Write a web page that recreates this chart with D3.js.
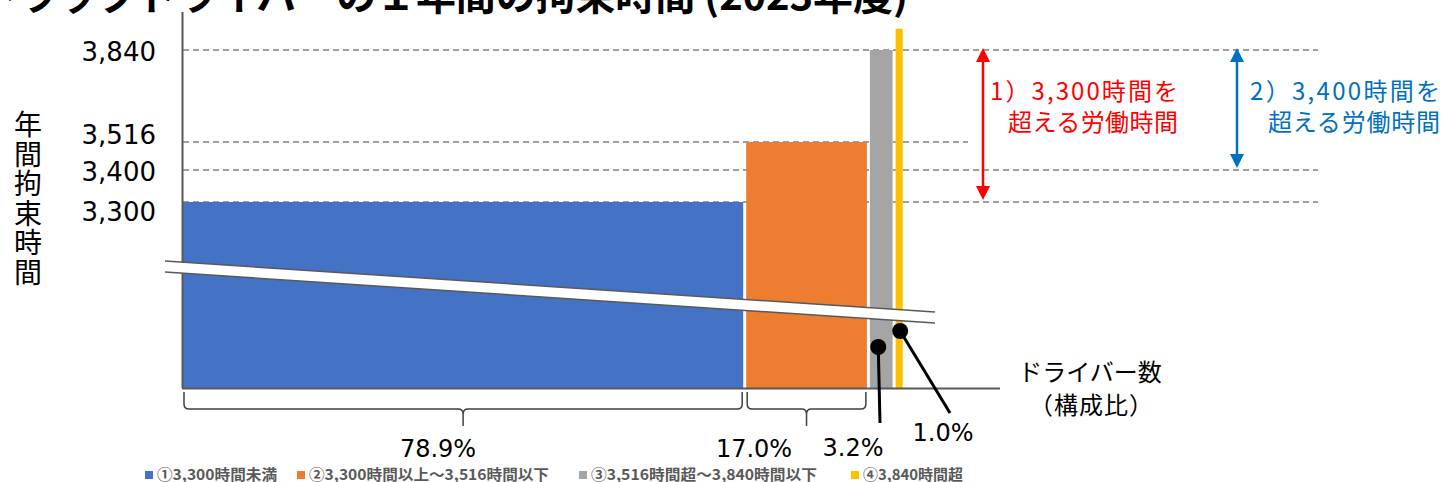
<!DOCTYPE html>
<html>
<head>
<meta charset="utf-8">
<script src="https://cdn.jsdelivr.net/npm/d3@7"></script>
<style>
  body { margin: 0; background: #fff; }
  svg { display: block; }
  text { font-family: "Noto Sans CJK JP", "DejaVu Sans", sans-serif; }
  .num { font-family: "DejaVu Sans", "Noto Sans CJK JP", sans-serif; }
</style>
</head>
<body>
<svg id="chart" width="1443" height="482"></svg>
<script>
// data
const categories = ["①3,300時間未満", "②3,300時間以上～3,516時間以下", "③3,516時間超～3,840時間以下", "④3,840時間超"];
const shares = [78.9, 17.0, 3.2, 1.0];          // % of drivers
const barTops = [3300, 3516, 3840, 3915];        // hours (last one is "over 3,840")
const colors = ["#4472C4", "#ED7D31", "#A5A5A5", "#FFC000"];
const yTicks = [3840, 3516, 3400, 3300];
const shareLabels = ["78.9%", "17.0%", "3.2%", "1.0%"];

const svg = d3.select("#chart");
const baseY = 388;     // broken axis bottom
const left = 183;
const gap = 3;

// schematic (non-uniform) vertical scale, as in the original
const y = d3.scaleLinear().domain([3300, 3400, 3516, 3840]).range([202, 170, 142, 50]);
const x = d3.scaleLinear().domain([0, 100]).range([left, left + 710]);

// title (cut off at top edge)
svg.append("text")
  .attr("x", -22).attr("y", 10)
  .attr("textLength", 930).attr("lengthAdjust", "spacing")
  .style("font-size", "40px").style("font-weight", "700").attr("fill", "#000")
  .text("トラックドライバーの１年間の拘束時間 (2023年度)");

// bar geometry
let cum = 0;
const bars = shares.map((s, i) => {
  const b = { i, x0: x(cum) + i * gap, w: x(cum + s) - x(cum), top: y(barTops[i]), color: colors[i] };
  cum += s;
  return b;
});

// gridlines
const gridEnd = { 3840: 1318, 3516: 968, 3400: 1318, 3300: 1318 };
svg.append("g").selectAll("line").data(yTicks).join("line")
  .attr("x1", left).attr("x2", d => gridEnd[d])
  .attr("y1", d => y(d)).attr("y2", d => y(d))
  .attr("stroke", "#808080").attr("stroke-width", 1.3).attr("stroke-dasharray", "6,4");

// bars
svg.append("g").selectAll("rect").data(bars).join("rect")
  .attr("x", d => d.x0).attr("width", d => d.w)
  .attr("y", d => d.top).attr("height", d => baseY - d.top)
  .attr("fill", d => d.color);

// axes
svg.append("line").attr("x1", 182.5).attr("x2", 182.5).attr("y1", 12).attr("y2", baseY)
  .attr("stroke", "#595959").attr("stroke-width", 2);
svg.append("line").attr("x1", 182).attr("x2", 1000).attr("y1", baseY + 0.5).attr("y2", baseY + 0.5)
  .attr("stroke", "#595959").attr("stroke-width", 2);

// axis break band
const band = [[165, 261], [935, 312], [935, 323], [165, 272]];
svg.append("path").attr("d", d3.line()(band) + "Z").attr("fill", "#fff");
svg.append("line").attr("x1", 165).attr("y1", 261).attr("x2", 935).attr("y2", 312)
  .attr("stroke", "#595959").attr("stroke-width", 1.5);
svg.append("line").attr("x1", 165).attr("y1", 272).attr("x2", 935).attr("y2", 323)
  .attr("stroke", "#595959").attr("stroke-width", 1.5);

// y tick labels
const tickNudge = { 3840: 11, 3516: 2, 3400: 11, 3300: 19 };
svg.append("g").selectAll("text").data(yTicks).join("text")
  .attr("class", "num")
  .attr("x", 156).attr("y", d => y(d) + tickNudge[d])
  .attr("text-anchor", "end").style("font-size", "26px").attr("fill", "#000")
  .text(d => d3.format(",")(d));

// y axis title (vertical, one glyph per line)
svg.append("g").selectAll("text").data(Array.from("年間拘束時間")).join("text")
  .attr("x", 28).attr("y", (d, i) => 135 + i * 29.6).attr("text-anchor", "middle")
  .style("font-size", "28px").attr("fill", "#000").text(d => d);

// braces under first two bars
function brace(x1, x2) {
  const xm = (x1 + x2) / 2, y0 = 392, y1 = 409, r = 5;
  return `M${x1},${y0} L${x1},${y1 - r} Q${x1},${y1} ${x1 + r},${y1} L${xm - r},${y1} Q${xm},${y1} ${xm},${y1 + r} L${xm},${y1 + 17}` +
    ` M${xm},${y1 + r} Q${xm},${y1} ${xm + r},${y1} L${x2 - r},${y1} Q${x2},${y1} ${x2},${y1 - r} L${x2},${y0}`;
}
svg.append("g").selectAll("path").data(bars.slice(0, 2)).join("path")
  .attr("d", d => brace(d.x0 + 1, d.x0 + d.w - 1))
  .attr("fill", "none").attr("stroke", "#404040").attr("stroke-width", 1.5);

// leader lines + dots for the thin bars
const leaders = [
  { bar: 2, dx: -3, dotY: 347, endX: 880, endY: 423 },
  { bar: 3, dx: 1, dotY: 331, endX: 950, endY: 413 }
];
leaders.forEach(l => {
  const b = bars[l.bar];
  const cx = b.x0 + b.w / 2 + l.dx;
  svg.append("line").attr("x1", cx).attr("y1", l.dotY).attr("x2", l.endX).attr("y2", l.endY)
    .attr("stroke", "#000").attr("stroke-width", 3);
  svg.append("circle").attr("cx", cx).attr("cy", l.dotY).attr("r", 8).attr("fill", "#000");
});

// share labels
const labelPos = [[438, 457], [754, 457], [853, 456], [943, 441]];
svg.append("g").selectAll("text").data(shareLabels).join("text")
  .attr("class", "num")
  .attr("x", (d, i) => labelPos[i][0]).attr("y", (d, i) => labelPos[i][1])
  .attr("text-anchor", "middle").style("font-size", "24px").attr("fill", "#000")
  .text(d => d);

// x axis title
svg.append("text").attr("x", 1090).attr("y", 381).attr("text-anchor", "middle")
  .style("font-size", "24px").text("ドライバー数");
svg.append("text").attr("x", 1091).attr("y", 414).attr("text-anchor", "middle")
  .attr("textLength", 124).style("font-size", "24px").text("（構成比）");

// double arrows
function dblArrow(ax, v1, v2, color) {
  const y1 = y(v1) - 2, y2 = y(v2) - 2, h = 14, w = 7;
  const g = svg.append("g");
  g.append("line").attr("x1", ax).attr("x2", ax).attr("y1", y1 + h - 2).attr("y2", y2 - h + 2)
    .attr("stroke", color).attr("stroke-width", 2.5);
  g.append("path").attr("d", `M${ax},${y1} L${ax - w},${y1 + h} L${ax + w},${y1 + h}Z`).attr("fill", color);
  g.append("path").attr("d", `M${ax},${y2} L${ax - w},${y2 - h} L${ax + w},${y2 - h}Z`).attr("fill", color);
}
dblArrow(983, 3840, 3300, "#FF0000");
dblArrow(1237, 3840, 3400, "#0070C0");

const notes = [
  { x: 1178, color: "#FF0000", lines: ["1）3,300時間を", "超える労働時間"], widths: [188, 170] },
  { x: 1440, color: "#0070C0", lines: ["2）3,400時間を", "超える労働時間"], widths: [190, 172] }
];
notes.forEach(n => {
  n.lines.forEach((t, i) => {
    svg.append("text").attr("x", n.x - n.widths[i]).attr("y", 100 + i * 31)
      .attr("textLength", n.widths[i]).attr("lengthAdjust", "spacing")
      .style("font-size", "24px").attr("fill", n.color).text(t);
  });
});

// legend
const legendX = [145, 297, 579, 851];
const legendW = [120, 240, 226, 100];
const legend = svg.append("g");
categories.forEach((c, i) => {
  legend.append("rect").attr("x", legendX[i]).attr("y", 471).attr("width", 8).attr("height", 8).attr("fill", colors[i]);
  legend.append("text").attr("x", legendX[i] + 12).attr("y", 480)
    .attr("textLength", legendW[i]).attr("lengthAdjust", "spacingAndGlyphs")
    .style("font-size", "15px").style("font-weight", "700").attr("fill", "#595959").text(c);
});
</script>
</body>
</html>
